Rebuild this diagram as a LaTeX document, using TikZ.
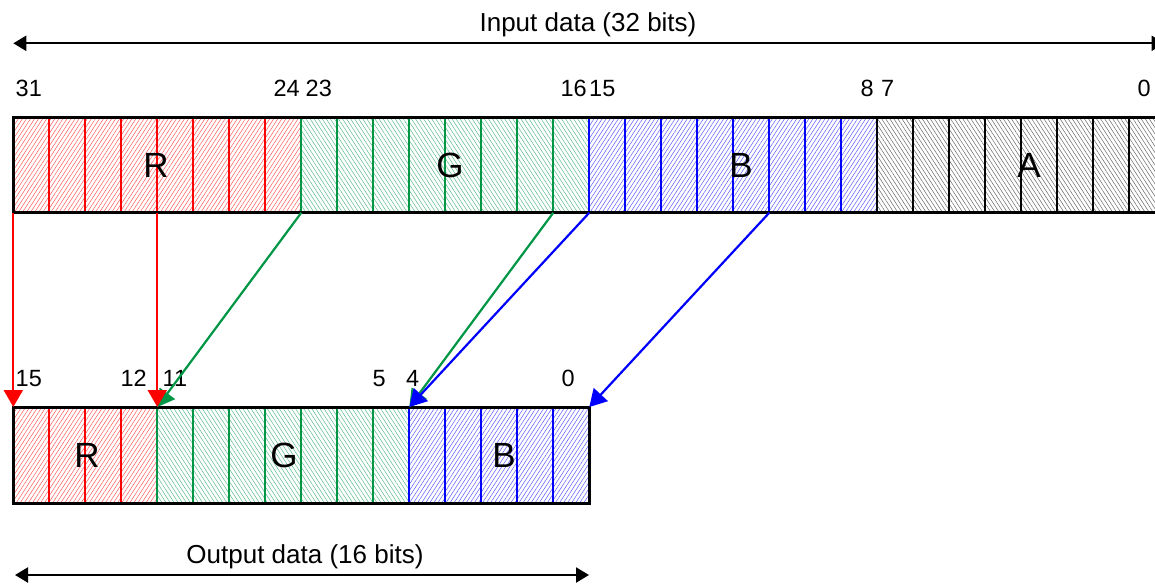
\documentclass[tikz,border=0pt]{standalone}
\usepackage{fontspec}
\setmainfont{Liberation Sans}
\usetikzlibrary{arrows.meta,patterns.meta}
\definecolor{rr}{RGB}{255,0,0}
\definecolor{gg}{RGB}{0,150,70}
\definecolor{bb}{RGB}{0,0,255}
\tikzset{
  hatchR/.style={pattern={Lines[angle=57,distance=3.4pt,line width=0.5pt]},pattern color=rr!65},
  hatchG/.style={pattern={Lines[angle=-57,distance=3.4pt,line width=0.5pt]},pattern color=gg!65},
  hatchB/.style={pattern={Lines[angle=57,distance=3.4pt,line width=0.5pt]},pattern color=bb!65},
  hatchA/.style={pattern={Lines[angle=-57,distance=3.4pt,line width=0.5pt]},pattern color=black!60},
  cellR/.style={draw=rr,line width=2pt},
  cellG/.style={draw=gg,line width=2pt},
  cellB/.style={draw=bb,line width=2pt},
  cellA/.style={draw=black,line width=2pt},
  border/.style={draw=black,line width=3pt},
  bitnum/.style={inner sep=0pt,font=\fontsize{23.5}{26}\selectfont},
  fieldname/.style={inner sep=0pt,font=\fontsize{35}{40}\selectfont},
  title/.style={inner sep=0pt,anchor=base,font=\fontsize{26}{30}\selectfont},
  map/.style={line width=2.2pt,-{Triangle[length=17pt,width=19pt]}},
  span/.style={line width=2.2pt,{Triangle[length=13pt,width=15pt]}-{Triangle[length=13pt,width=15pt]}},
}
\begin{document}
\begin{tikzpicture}[x=1pt,y=-1pt]
\useasboundingbox (0,0) rectangle (1155,584);
\clip (0,0) rectangle (1155,584);

% ---------- input word ----------
\path[hatchR] (13.3,117.5) rectangle (301.3,212.7);
\path[hatchG] (301.3,117.5) rectangle (589.3,212.7);
\path[hatchB] (589.3,117.5) rectangle (877.3,212.7);
\path[hatchA] (877.3,117.5) rectangle (1165.3,212.7);
\foreach \i in {1,...,7}  \draw[cellR] (13.3+36*\i,117.5) -- (13.3+36*\i,212.7);
\foreach \i in {8,...,15} \draw[cellG] (13.3+36*\i,117.5) -- (13.3+36*\i,212.7);
\foreach \i in {16,...,23} \draw[cellB] (13.3+36*\i,117.5) -- (13.3+36*\i,212.7);
\foreach \i in {24,...,31} \draw[cellA] (13.3+36*\i,117.5) -- (13.3+36*\i,212.7);
\draw[border] (1170,117.5) -- (13.3,117.5) -- (13.3,212.7) -- (1170,212.7);

\node[fieldname] (inR) at (156,165) {R};
\node[fieldname] (inG) at (450,165) {G};
\node[fieldname] (inB) at (741,165) {B};
\node[fieldname] (inA) at (1029,165) {A};

\node[bitnum,anchor=base west] (n31) at (15.5,96.7) {31};
\node[bitnum,anchor=base east] (n24) at (300,96.7) {24};
\node[bitnum,anchor=base west] (n23) at (305.5,96.7) {23};
\node[bitnum,anchor=base east] (n16) at (587,96.7) {16};
\node[bitnum,anchor=base west] (n15) at (589,96.7) {15};
\node[bitnum,anchor=base east] (n8) at (874,96.7) {8};
\node[bitnum,anchor=base west] (n7) at (881,96.7) {7};
\node[bitnum,anchor=base east] (n0) at (1151,96.7) {0};

% ---------- output word ----------
\path[hatchR] (13.3,407) rectangle (157.3,503);
\path[hatchG] (157.3,407) rectangle (409.3,503);
\path[hatchB] (409.3,407) rectangle (589.3,503);
\foreach \i in {1,...,3}  \draw[cellR] (13.3+36*\i,407) -- (13.3+36*\i,503);
\foreach \i in {4,...,10} \draw[cellG] (13.3+36*\i,407) -- (13.3+36*\i,503);
\foreach \i in {11,...,15} \draw[cellB] (13.3+36*\i,407) -- (13.3+36*\i,503);
\draw[border] (13.3,407) rectangle (589.3,503);

\node[fieldname] (outR) at (87,455) {R};
\node[fieldname] (outG) at (284,455) {G};
\node[fieldname] (outB) at (504,455) {B};

\node[bitnum,anchor=base west] (m15) at (15.5,386.7) {15};
\node[bitnum,anchor=base east] (m12) at (147,386.7) {12};
\node[bitnum,anchor=base west] (m11) at (162.5,386.7) {11};
\node[bitnum,anchor=base east] (m5) at (386,386.7) {5};
\node[bitnum,anchor=base west] (m4) at (406,386.7) {4};
\node[bitnum,anchor=base east] (m0) at (575,386.7) {0};

% ---------- titles and spans ----------
\node[title] (tin) at (588,31.7) {Input data (32 bits)};
\coordinate (inL) at (13.3,43.3);
\coordinate (inRgt) at (1164.5,43.3);
\draw[span] (inL) -- (inRgt);

\node[title] (tout) at (305,563) {Output data (16 bits)};
\coordinate (outL) at (15,575);
\coordinate (outRgt) at (589,575);
\draw[span] (outL) -- (outRgt);

% ---------- mapping arrows ----------
\coordinate (sR0) at (13.3,212.7);
\coordinate (sR4) at (157.3,212.7);
\coordinate (sG0) at (301.3,212.7);
\coordinate (sG7) at (553.3,212.7);
\coordinate (sB0) at (589.3,212.7);
\coordinate (sB5) at (769.3,212.7);
\coordinate (dR) at (13.3,407);
\coordinate (dG) at (157.3,407);
\coordinate (dB) at (409.3,407);
\coordinate (dEnd) at (589.3,407);

\draw[map,draw=gg,fill=gg] (sG0) -- (dG);
\draw[map,draw=gg,fill=gg] (sG7) -- (dB);
\draw[map,draw=rr,fill=rr] (sR0) -- (dR);
\draw[map,draw=rr,fill=rr] (sR4) -- (dG);
\draw[map,draw=bb,fill=bb] (sB0) -- (dB);
\draw[map,draw=bb,fill=bb] (sB5) -- (dEnd);
\end{tikzpicture}
\end{document}
